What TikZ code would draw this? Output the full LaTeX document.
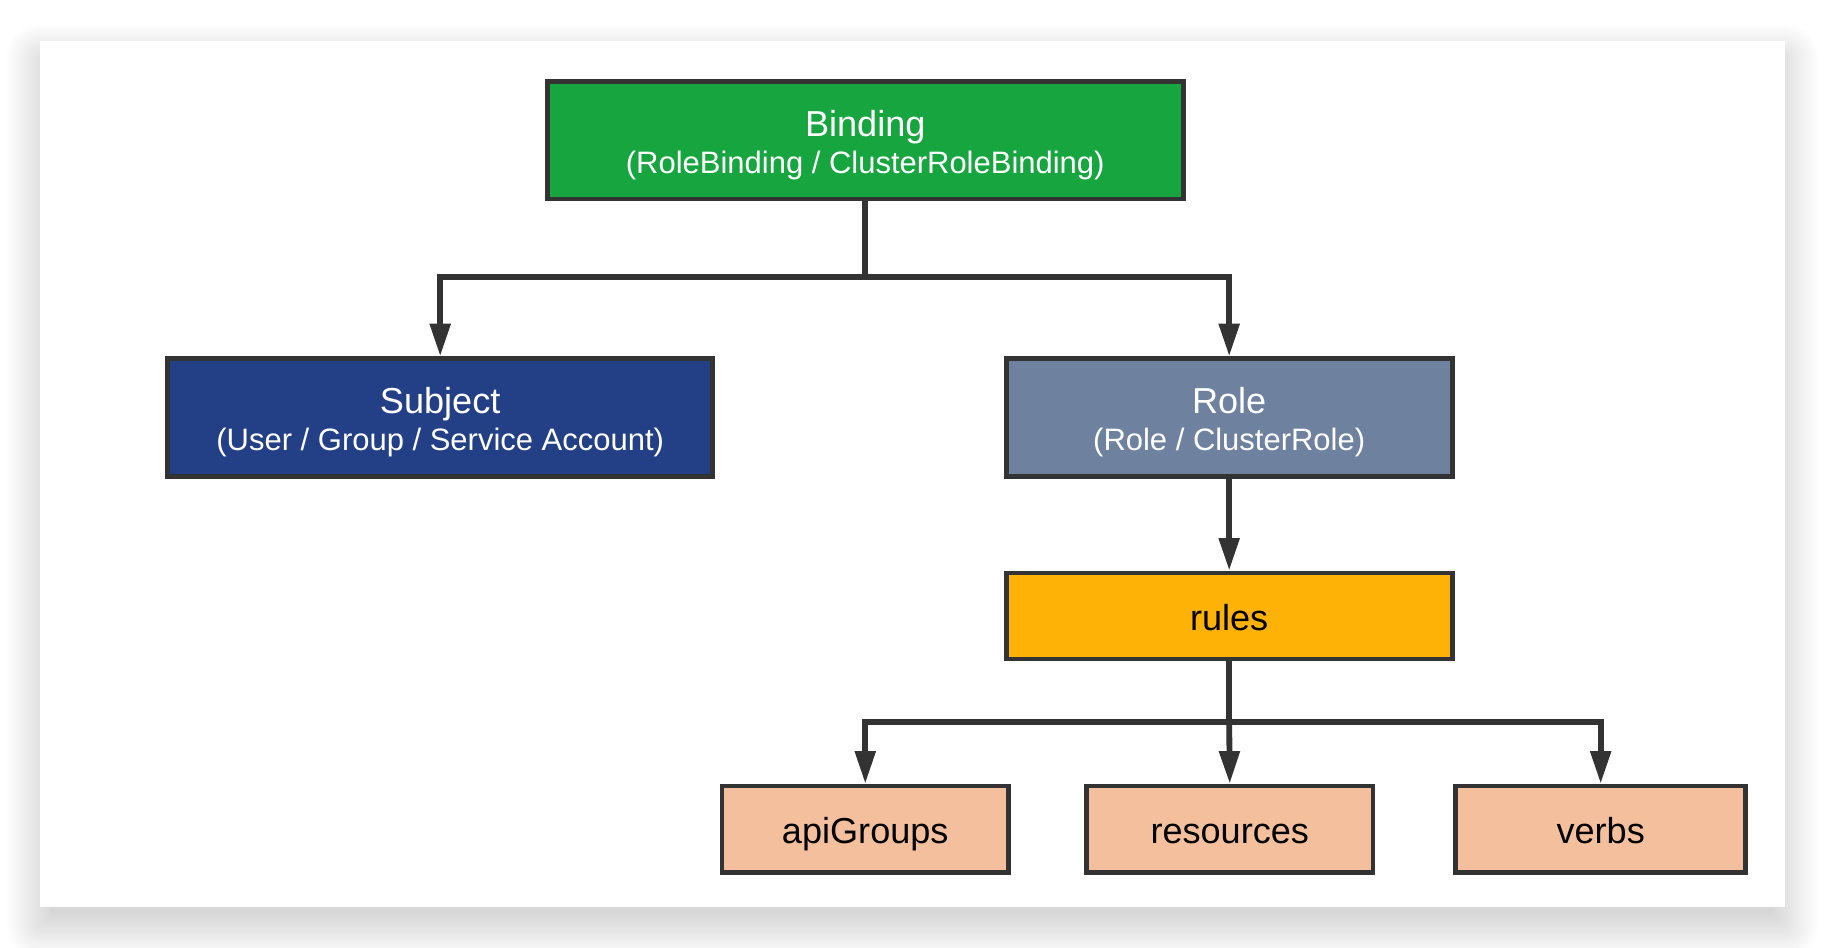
\documentclass[tikz,border=0pt]{standalone}
\usepackage{fontspec}
\setmainfont{Liberation Sans}
\usetikzlibrary{arrows.meta}
\definecolor{bordercol}{HTML}{333333}
\definecolor{bindgreen}{HTML}{17A540}
\definecolor{subjblue}{HTML}{233F86}
\definecolor{rolegray}{HTML}{6E82A0}
\definecolor{rulesyellow}{HTML}{FDB205}
\definecolor{leafpeach}{HTML}{F4BF9D}
\tikzset{
  box/.style={draw=bordercol, line width=4pt, inner sep=0pt, rectangle},
  titletxt/.style={anchor=base, inner sep=0pt, font=\fontsize{31}{36}\selectfont},
  subtxt/.style={anchor=base, inner sep=0pt, font=\fontsize{26.6}{31}\selectfont},
  conn/.style={draw=bordercol, line width=5pt, line join=miter},
  arr/.style={conn, -{Triangle[length=28pt,width=17pt]}}
}
\begin{document}
\begin{tikzpicture}[x=1pt,y=-1pt]
\useasboundingbox (0,0) rectangle (1568,814);
\fill[white] (0,0) rectangle (1568,814);
% soft shadow of the card
\foreach \i in {1,...,20}{
  \pgfmathsetmacro{\r}{2*\i}
  \pgfmathsetmacro{\rc}{max(\r-12,1)}
  \fill[black, opacity=0.006, rounded corners=\rc pt] (34-\r+12, 35-\r+26) rectangle (1533+\r-12, 779+\r+4);
}
\fill[white] (34,35) rectangle (1533,779);

% boxes
\node[box, fill=bindgreen, minimum width=546pt, minimum height=101pt] (binding) at (743,120.5) {};
\node[box, fill=subjblue, minimum width=468pt, minimum height=101pt] (subject) at (378,358.5) {};
\node[box, fill=rolegray, minimum width=383pt, minimum height=101pt] (role) at (1055.5,358.5) {};
\node[box, fill=rulesyellow, minimum width=383pt, minimum height=74pt] (rules) at (1055.5,529) {};
\node[box, fill=leafpeach, minimum width=246pt, minimum height=74pt] (apigroups) at (743,712) {};
\node[box, fill=leafpeach, minimum width=246pt, minimum height=74pt] (resources) at (1056,712) {};
\node[box, fill=leafpeach, minimum width=249pt, minimum height=74pt] (verbs) at (1374.5,712) {};

% texts
\node[titletxt, text=white] (bindingT) at (743,117) {Binding};
\node[subtxt, text=white] (bindingS) at (743,149) {(RoleBinding / ClusterRoleBinding)};
\node[titletxt, text=white] (subjectT) at (378,355) {Subject};
\node[subtxt, text=white] (subjectS) at (378,387) {(User / Group / Service Account)};
\node[titletxt, text=white] (roleT) at (1055.5,355) {Role};
\node[subtxt, text=white] (roleS) at (1055.5,387) {(Role / ClusterRole)};
\node[titletxt, text=black] (rulesT) at (1055.5,541) {rules};
\node[titletxt, text=black] (apigroupsT) at (743,724) {apiGroups};
\node[titletxt, text=black] (resourcesT) at (1056,724) {resources};
\node[titletxt, text=black] (verbsT) at (1374.5,724) {verbs};

% connectors
\coordinate (j1) at (743,238);
\coordinate (j2) at (1055.5,620);
\draw[conn] (binding.south) -- (j1);
\draw[arr] (j1) -| (subject.north);
\draw[arr] (j1) -| (role.north);
\draw[arr] (role.south) -- (rules.north);
\draw[conn] (rules.south) -- (j2);
\draw[arr] (j2) -| (apigroups.north);
\draw[arr] (j2) -- (resources.north);
\draw[arr] (j2) -| (verbs.north);
\end{tikzpicture}
\end{document}
